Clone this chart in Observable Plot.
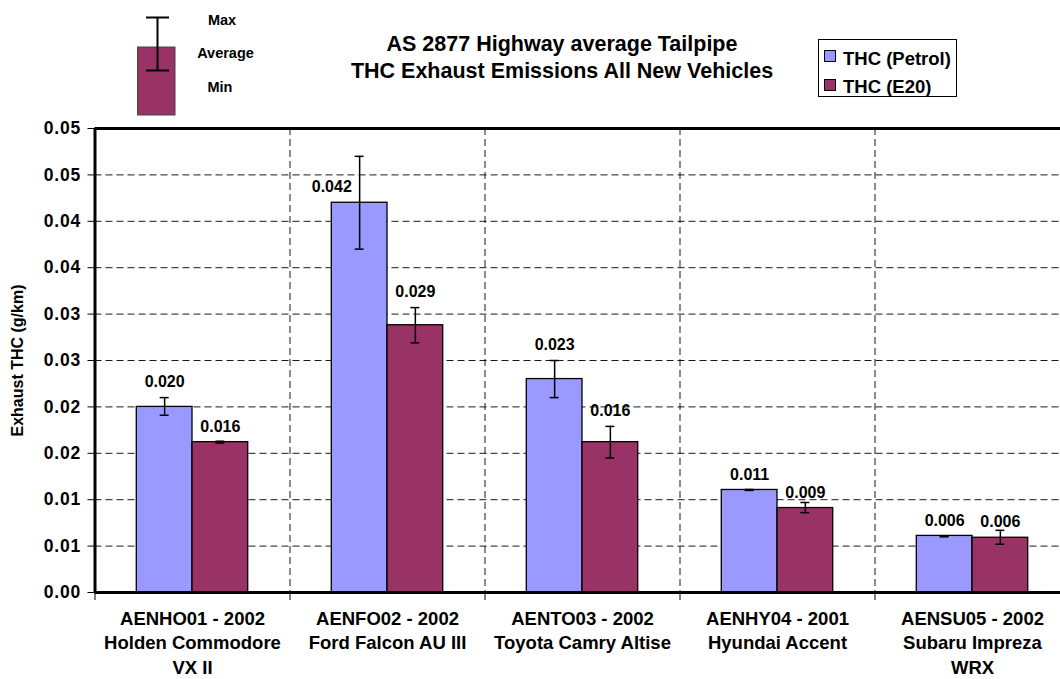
<!DOCTYPE html>
<html><head><meta charset="utf-8">
<script src="https://cdn.jsdelivr.net/npm/d3@7"></script>
<script src="https://cdn.jsdelivr.net/npm/@observablehq/plot@0.6"></script>
<style>
html,body{margin:0;padding:0;background:#fff;overflow:hidden;}
#wrap{position:relative;width:1060px;height:679px;font-family:"Liberation Sans",Arial,sans-serif;font-weight:bold;color:#000;}
#header{position:relative;height:118px;}
#title{position:absolute;left:262px;top:31px;width:600px;text-align:center;font-size:21.5px;line-height:27px;}
#legend{position:absolute;left:818px;top:39px;width:139px;height:58px;border:1px solid #000;box-sizing:border-box;}
.sw{position:absolute;left:5px;width:12px;height:12px;border:1px solid #000;box-sizing:border-box;}
.lt{position:absolute;left:24px;font-size:18.5px;line-height:20px;white-space:nowrap;}
#errLegend text{font-family:"Liberation Sans",Arial,sans-serif;font-weight:bold;font-size:14.5px;}
</style></head><body>
<div id="wrap">
  <div id="header">
    <svg id="errLegend" width="280" height="118" style="position:absolute;left:0;top:0">
      <rect x="137.5" y="47" width="37.5" height="68" fill="#993366" stroke="#444" stroke-width="1"></rect>
      <line x1="157.5" x2="157.5" y1="17.5" y2="70.5" stroke="#000" stroke-width="2"></line>
      <line x1="146" x2="169" y1="17.5" y2="17.5" stroke="#000" stroke-width="2"></line>
      <line x1="146" x2="169" y1="70.5" y2="70.5" stroke="#000" stroke-width="2"></line>
      <text x="222" y="19.5" text-anchor="middle" dominant-baseline="central">Max</text>
      <text x="225.5" y="53" text-anchor="middle" dominant-baseline="central">Average</text>
      <text x="220" y="86.5" text-anchor="middle" dominant-baseline="central">Min</text>
    </svg>
    <div id="title">AS 2877 Highway average Tailpipe<br>THC Exhaust Emissions All New Vehicles</div>
    <div id="legend"></div>
  </div>
  <div id="chart"></div>
</div>
<script>
// ---- data ----
const categories = [
  "AENHO01 - 2002\nHolden Commodore\nVX II",
  "AENFO02 - 2002\nFord Falcon AU III",
  "AENTO03 - 2002\nToyota Camry Altise",
  "AENHY04 - 2001\nHyundai Accent",
  "AENSU05 - 2002\nSubaru Impreza\nWRX"
];
const series = ["THC (Petrol)", "THC (E20)"];
const colors = ["#9999FF", "#993366"];
const petrolAvg = [0.0200, 0.0420, 0.0230, 0.01105, 0.0061];
const petrolMin = [0.0191, 0.0370, 0.0210, 0.0110, 0.0060];
const petrolMax = [0.0210, 0.0470, 0.0250, 0.0111, 0.0061];
const e20Avg = [0.0162, 0.0288, 0.0162, 0.0091, 0.0059];
const e20Min = [0.0161, 0.0269, 0.0145, 0.0086, 0.0052];
const e20Max = [0.0163, 0.0307, 0.0179, 0.0097, 0.0067];
const yTicks = [0, 0.005, 0.01, 0.015, 0.02, 0.025, 0.03, 0.035, 0.04, 0.045, 0.05];
const yTickLabels = ["0.00","0.01","0.01","0.02","0.02","0.03","0.03","0.04","0.04","0.05","0.05"];
const yLabel = "Exhaust THC (g/km)";

// ---- legend ----
const leg = document.getElementById("legend");
series.forEach((s, i) => {
  const sw = document.createElement("div");
  sw.className = "sw"; sw.style.top = (10 + i * 28.5) + "px"; sw.style.background = colors[i];
  const t = document.createElement("div");
  t.className = "lt"; t.style.top = (8.5 + i * 28.5) + "px"; t.textContent = s;
  leg.appendChild(sw); leg.appendChild(t);
});

// ---- table ----
const barFrac = 1 / 3.5; // Excel gap width 150%
const avgs = [petrolAvg, e20Avg], mins = [petrolMin, e20Min], maxs = [petrolMax, e20Max];
const rows = [];
categories.forEach((c, i) => {
  series.forEach((s, k) => {
    const x1 = i + 0.5 - barFrac + k * barFrac;
    rows.push({cat: i, series: s, avg: avgs[k][i], min: mins[k][i], max: maxs[k][i], x1, x2: x1 + barFrac, xc: x1 + barFrac / 2});
  });
});
const fmt = d3.format(".3f");
const capHalf = 0.023;
// label anchor: above the error bar when it is noticeable, else above the bar;
// when too close to the top, beside the error bar at bar height
rows.forEach(r => {
  if (r.max > 0.045) { r.ly = r.avg; r.lx = r.xc - barFrac / 2; }
  else { r.ly = (r.max - r.avg) > 0.0009 ? r.max : r.avg; r.lx = r.xc; }
});

const dash = "7,4";
const chart = Plot.plot({
  width: 1060, height: 561,
  marginLeft: 94.5, marginRight: 0, marginTop: 10, marginBottom: 87,
  style: {fontFamily: "'Liberation Sans', Arial, sans-serif", background: "#fff", color: "#000"},
  x: {type: "linear", domain: [0, 5], range: [94.5, 1069.5]},
  y: {domain: [0, 0.05]},
  color: {domain: series, range: colors},
  marks: [
    Plot.gridY(yTicks.slice(1, -1), {stroke: "#000", strokeOpacity: 0.9, strokeDasharray: dash, strokeWidth: 1}),
    Plot.gridX([1, 2, 3, 4], {stroke: "#000", strokeOpacity: 0.9, strokeDasharray: dash, strokeWidth: 1}),
    Plot.axisX([0, 1, 2, 3, 4, 5], {tickSize: 8, tickFormat: () => "", stroke: "#000", strokeWidth: 1, label: null}),
    Plot.axisX(categories.map((c, i) => i + 0.5), {
      tickSize: 0, tickPadding: 15, tickFormat: d => categories[Math.floor(d)],
      fontSize: 18.5, fontWeight: "bold", lineHeight: 1.32, label: null
    }),
    Plot.axisY(yTicks, {
      tickSize: 7, tickPadding: 7, tickFormat: (d, i) => yTickLabels[yTicks.indexOf(d)],
      fontSize: 17.5, fontWeight: "bold", label: null
    }),
    Plot.axisY({ticks: [], tickSize: 0, label: yLabel, labelAnchor: "center", labelArrow: "none", labelOffset: 83, fontSize: 16, fontWeight: "bold"}),
    Plot.rect(rows, {x1: "x1", x2: "x2", y1: 0, y2: "avg", fill: "series", stroke: "#000", strokeWidth: 1.3}),
    Plot.ruleX(rows, {x: "xc", y1: "min", y2: "max", stroke: "#000", strokeWidth: 1.5}),
    Plot.ruleY(rows, {y: "max", x1: r => r.xc - capHalf, x2: r => r.xc + capHalf, stroke: "#000", strokeWidth: 1.5}),
    Plot.ruleY(rows, {y: "min", x1: r => r.xc - capHalf, x2: r => r.xc + capHalf, stroke: "#000", strokeWidth: 1.5}),
    Plot.text(rows, {x: "lx", y: "ly", text: r => fmt(r.avg), dy: -15.5, fontSize: 16, fontWeight: "bold", fill: "#000"}),
    Plot.ruleX([0], {stroke: "#000", strokeWidth: 3}),
    Plot.ruleY([0], {stroke: "#000", strokeWidth: 3}),
    Plot.ruleY([0.05], {stroke: "#000", strokeWidth: 3})
  ]
});
document.getElementById("chart").appendChild(chart);
d3.select(chart).selectAll('[aria-label="y-axis tick label"] text').style("letter-spacing", "0.8px");
</script>
</body></html>
